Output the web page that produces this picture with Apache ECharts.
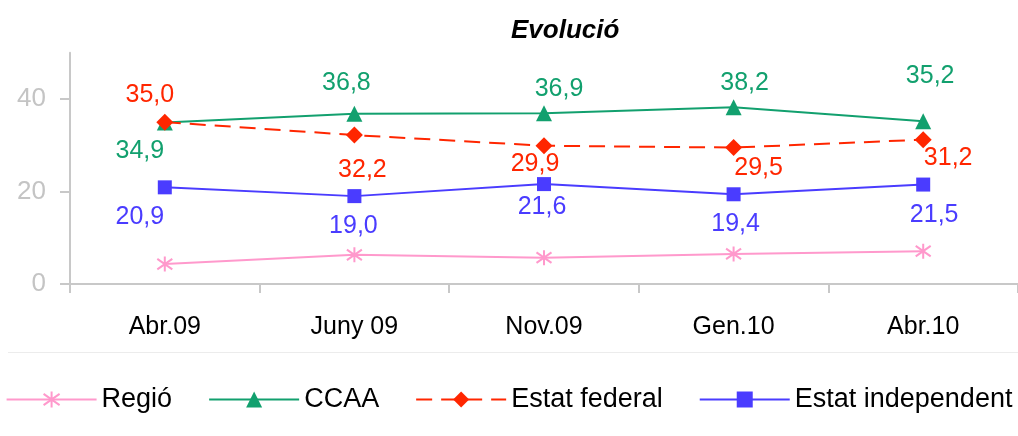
<!DOCTYPE html>
<html>
<head>
<meta charset="utf-8">
<script src="https://cdn.jsdelivr.net/npm/echarts@6/dist/echarts.min.js"></script>
<style>
  html, body { margin: 0; padding: 0; background: #fff; }
  #chart { width: 1018px; height: 436px; }
</style>
</head>
<body>
<div id="chart"></div>
<script>
// periodes
const categories = ['Abr.09', 'Juny 09', 'Nov.09', 'Gen.10', 'Abr.10'];
// valors (%)
const regio = [4.3, 6.3, 5.7, 6.5, 7.1];
const ccaa = [34.9, 36.8, 36.9, 38.2, 35.2];
const estatFederal = [35.0, 32.2, 29.9, 29.5, 31.2];
const estatIndependent = [20.9, 19.0, 21.6, 19.4, 21.5];
const yTicks = [0, 20, 40];

const FONT = '"Liberation Sans", Arial, sans-serif';
const fmt = function (p) { return p.value.toFixed(1).replace('.', ','); };

// etiquetes mogudes a ma (com a l'original)
function labelled(values, shifts, color) {
    return values.map(function (v, i) {
        return {
            value: v,
            label: { show: true, position: 'inside', offset: shifts[i], color: color }
        };
    });
}

const asterisk = 'path://M5,0 L5,10 M0,1.5 L10,8.5 M10,1.5 L0,8.5';

let myChart = echarts.init(document.getElementById('chart'));
let option = {
    animation: false,
    title: {
        text: 'Evolució',
        left: 506,
        top: 13,
        textStyle: { fontFamily: FONT, fontSize: 26, fontWeight: 'bold', fontStyle: 'italic', color: '#000' }
    },
    legend: {
        left: 'center',
        top: 381,
        itemWidth: 90,
        itemHeight: 20,
        itemGap: 36,
        textStyle: { fontFamily: FONT, fontSize: 27, color: '#000' },
        data: ['Regió', 'CCAA', 'Estat federal', 'Estat independent']
    },
    grid: { left: 70, right: -5, top: 52.75, bottom: 152, containLabel: false },
    xAxis: {
        type: 'category',
        data: categories,
        axisLine: { lineStyle: { color: '#c8c8c8', width: 2 } },
        axisTick: { show: true, length: 9, lineStyle: { color: '#c8c8c8', width: 2 } },
        axisLabel: { fontFamily: FONT, fontSize: 25, color: '#000', margin: 31, interval: 0 }
    },
    yAxis: {
        type: 'value',
        min: 0,
        max: 50,
        interval: 20,
        splitLine: { show: false },
        axisLine: { show: true, lineStyle: { color: '#c8c8c8', width: 2 } },
        axisTick: { show: true, length: 10, customValues: yTicks, lineStyle: { color: '#c8c8c8', width: 2 } },
        axisLabel: { fontFamily: FONT, fontSize: 26, color: '#c4c4c4', margin: 24, customValues: yTicks }
    },
    graphic: [{
        type: 'line',
        shape: { x1: 8, y1: 352.5, x2: 1018, y2: 352.5 },
        style: { stroke: '#ececec', lineWidth: 1 },
        silent: true
    }],
    series: [
        {
            name: 'Regió',
            type: 'line',
            data: regio,
            symbol: asterisk,
            symbolSize: 15,
            showSymbol: true,
            itemStyle: { color: 'rgba(0,0,0,0)', borderColor: '#ff99cc', borderWidth: 2 },
            lineStyle: { color: '#ff99cc', width: 2 },
            z: 2
        },
        {
            name: 'CCAA',
            type: 'line',
            data: labelled(ccaa, [[-25, 29], [-8, -31], [15, -24], [11, -24], [7, -45]], '#12a06e'),
            symbol: 'triangle',
            symbolSize: 16,
            itemStyle: { color: '#12a06e' },
            lineStyle: { color: '#12a06e', width: 2 },
            label: { fontFamily: FONT, fontSize: 25, formatter: fmt },
            z: 3
        },
        {
            name: 'Estat federal',
            type: 'line',
            data: labelled(estatFederal, [[-15, -27], [8, 35], [-9, 18], [25, 21], [25, 18]], '#ff2600'),
            symbol: 'diamond',
            symbolSize: 17,
            itemStyle: { color: '#ff2600' },
            lineStyle: { color: '#ff2600', width: 2, type: [16, 9] },
            label: { fontFamily: FONT, fontSize: 25, formatter: fmt },
            z: 4
        },
        {
            name: 'Estat independent',
            type: 'line',
            data: labelled(estatIndependent, [[-25, 30], [-1, 30], [-2, 23], [2, 30], [11, 31]], '#4a3cff'),
            symbol: 'rect',
            symbolSize: 14,
            itemStyle: { color: '#4a3cff' },
            lineStyle: { color: '#4a3cff', width: 2 },
            label: { fontFamily: FONT, fontSize: 25, formatter: fmt },
            z: 3
        }
    ]
};
myChart.setOption(option);
</script>
</body>
</html>
